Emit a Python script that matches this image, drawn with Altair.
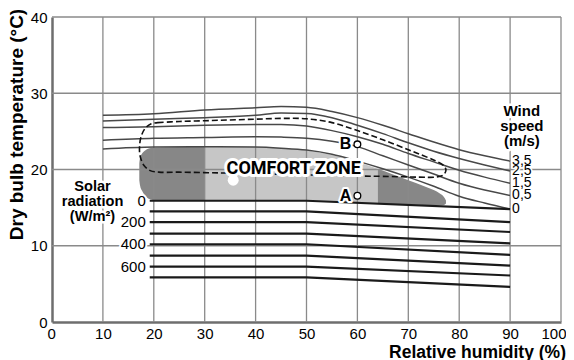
import altair as alt
import pandas as pd

# ---------------- data ----------------
X_TICKS = [0, 10, 20, 30, 40, 50, 60, 70, 80, 90, 100]
Y_TICKS = [0, 10, 20, 30, 40]

WIND_LABELS = ["3,5", "2,5", "1,5", "0,5", "0"]
WIND_X = [10, 20, 30, 40, 45, 50, 55, 60, 65, 70, 75, 80, 85, 90]
WIND_35 = [27.1, 27.3, 27.8, 28.1, 28.25, 28.15, 27.6, 26.8, 25.8, 24.7, 23.6, 22.6, 21.8, 21.1]
WIND_25 = [26.35, 26.6, 26.8, 27.1, 27.4, 27.35, 26.8, 25.8, 24.7, 23.5, 22.4, 21.45, 20.6, 19.8]
WIND_15 = [25.5, 25.6, 25.8, 25.9, 25.9, 25.7, 25.1, 24.3, 23.3, 22.1, 21.0, 19.9, 19.0, 18.2]
WIND_05 = [23.85, 24.1, 24.2, 24.3, 24.25, 24.1, 23.7, 23.0, 21.8, 20.6, 19.4, 18.2, 17.3, 16.6]
WIND_00 = [22.7, 22.95, 23.0, 22.95, 22.8, 22.55, 22.0, 21.1, 20.1, 19.0, 17.8, 16.5, 15.6, 14.8]

SOLAR_LEVELS = [0, 100, 200, 300, 400, 500, 600, 700]
SOLAR_LABELED = [0, 200, 400, 600]
SOLAR_X = [19.2, 50, 90]
SOLAR_T_FLAT = [15.9, 14.5, 13.1, 11.6, 10.2, 8.7, 7.25, 5.85]
SOLAR_T_END = [14.8, 13.1, 11.8, 10.3, 8.8, 7.4, 6.1, 4.6]

ZONE_LEFT_X = [17.15, 17.3, 17.7, 18.3, 19.0, 19.8, 25.0, 30.0]
ZONE_LEFT_TOP = [20.8, 21.5, 22.1, 22.5, 22.75, 22.85, 22.95, 23.0]
ZONE_LEFT_BOT = [18.6, 17.9, 17.2, 16.6, 16.15, 16.0, 15.95, 15.95]
ZONE_MID_X = [30, 35, 40, 45, 50, 55, 60, 64]
ZONE_MID_TOP = [23.0, 23.0, 22.95, 22.8, 22.5, 21.9, 21.0, 20.1]
ZONE_MID_BOT = [15.95, 15.95, 15.95, 15.9, 15.9, 15.8, 15.65, 15.55]
ZONE_RIGHT_X = [64, 67, 70, 73, 75, 76.2, 77.0, 77.4]
ZONE_RIGHT_TOP = [20.1, 19.35, 18.6, 17.85, 17.3, 16.85, 16.4, 15.95]
ZONE_RIGHT_BOT = [15.5, 15.45, 15.4, 15.35, 15.3, 15.3, 15.35, 15.55]

LOOP_X = [20.8, 25, 30, 35, 40, 45, 50, 55, 60, 65, 70, 73, 75.3, 76.8, 77.4, 76.9, 75.3,
          72, 65, 60, 50, 40, 33, 25, 21, 19.3, 18.0, 17.3, 17.2, 17.5, 18.3, 19.5, 20.8]
LOOP_T = [26.15, 26.3, 26.4, 26.5, 26.6, 26.7, 26.65, 26.15, 25.1, 23.9, 22.6, 21.8, 21.15, 20.6, 19.95, 19.3, 19.0,
          19.0, 19.1, 19.15, 19.3, 19.45, 19.55, 19.65, 19.65, 19.85, 20.6, 21.8, 23.0, 24.3, 25.4, 26.0, 26.15]

POINT_NAMES = ["A", "B"]
POINT_X = [60, 60]
POINT_T = [16.55, 23.3]

# ---------------- frames ----------------
wind_series = [WIND_35, WIND_25, WIND_15, WIND_05, WIND_00]
wind_df = pd.DataFrame([
    {"x": x, "T": t, "speed": lab}
    for lab, ser in zip(WIND_LABELS, wind_series) for x, t in zip(WIND_X, ser)
])
wind_end_df = pd.DataFrame({"x": [WIND_X[-1]] * 5, "T": [s[-1] for s in wind_series], "label": WIND_LABELS})

solar_df = pd.DataFrame([
    {"x": x, "T": t, "level": lev}
    for lev, a, b in zip(SOLAR_LEVELS, SOLAR_T_FLAT, SOLAR_T_END)
    for x, t in zip(SOLAR_X, [a, a, b])
])
solar_lab_df = pd.DataFrame({
    "x": [SOLAR_X[0]] * len(SOLAR_LABELED),
    "T": [SOLAR_T_FLAT[SOLAR_LEVELS.index(v)] for v in SOLAR_LABELED],
    "label": [str(v) for v in SOLAR_LABELED],
})

zone_left = pd.DataFrame({"x": ZONE_LEFT_X, "T": ZONE_LEFT_TOP, "bot": ZONE_LEFT_BOT})
zone_mid = pd.DataFrame({"x": ZONE_MID_X, "T": ZONE_MID_TOP, "bot": ZONE_MID_BOT})
zone_right = pd.DataFrame({"x": ZONE_RIGHT_X, "T": ZONE_RIGHT_TOP, "bot": ZONE_RIGHT_BOT})

loop_df = pd.DataFrame({"x": LOOP_X, "T": LOOP_T, "i": list(range(len(LOOP_X)))})
pts_df = pd.DataFrame({"name": POINT_NAMES, "x": POINT_X, "T": POINT_T})

gx_df = pd.DataFrame({"x": X_TICKS[1:]})
gy_df = pd.DataFrame({"T": Y_TICKS[1:]})

ann_df = pd.DataFrame({
    "key": ["solar", "wind", "zone", "dot"],
    "x": [7.96, 92.3, 47.5, 35.6],
    "T": [17.18, 27.08, 19.4, 18.6],
    "text": ["Solar\nradiation\n(W/m²)", "Wind\nspeed\n(m/s)", "COMFORT ZONE", ""],
})

# ---------------- chart ----------------
FONT = "Liberation Sans"
XS = alt.Scale(domain=[0, 100], nice=False, zero=False)
YS = alt.Scale(domain=[0, 40], nice=False, zero=False)

x_axis = alt.Axis(values=X_TICKS, grid=False, ticks=False, domainColor="#6e6e6e", domainWidth=2.5,
                  labelFont=FONT, labelFontSize=15, labelColor="black", labelPadding=4,
                  labelFlush=True, labelFlushOffset=5, labelOverlap=False,
                  title="Relative humidity (%)", titleFont=FONT, titleFontSize=17.5, titleFontWeight="bold",
                  titleColor="black", titleAnchor="end", titleAlign="right", titleBaseline="alphabetic",
                  titleX=513.5, titleY=35.5)
y_axis = alt.Axis(values=Y_TICKS, grid=False, ticks=False, domainColor="#6e6e6e", domainWidth=2.5,
                  labelFont=FONT, labelFontSize=15, labelColor="black", labelPadding=5,
                  labelFlush=False, labelOverlap=False,
                  title="Dry bulb temperature (°C)", titleFont=FONT, titleFontSize=19, titleFontWeight="bold",
                  titleColor="black", titleAngle=270, titleAlign="center", titleBaseline="alphabetic",
                  titleX=-29.5, titleY=107)


def X(field="x"):
    return alt.X(f"{field}:Q", scale=XS, axis=x_axis, title="Relative humidity (%)")


def Y(field="T"):
    return alt.Y(f"{field}:Q", scale=YS, axis=y_axis, title="Dry bulb temperature (°C)")


zl = alt.Chart(zone_left).mark_area(color="#878787", interpolate="monotone").encode(
    x=X(), y=Y(), y2="bot:Q")
zm = alt.Chart(zone_mid).mark_area(color="#c6c6c6", interpolate="monotone").encode(
    x=X(), y=Y(), y2="bot:Q")
zr = alt.Chart(zone_right).mark_area(color="#878787", interpolate="monotone").encode(
    x=X(), y=Y(), y2="bot:Q")

grid_v = alt.Chart(gx_df).mark_rule(color="#8a8a8a", strokeWidth=1.3).encode(x=X())
grid_h = alt.Chart(gy_df).mark_rule(color="#8a8a8a", strokeWidth=1.3).encode(y=Y())

wind = alt.Chart(wind_df).mark_line(color="#484848", strokeWidth=1.5, interpolate="monotone").encode(
    x=X(), y=Y(), detail="speed:N")
loop = alt.Chart(loop_df).mark_line(color="#111111", strokeWidth=1.6, strokeDash=[6, 3],
                                    interpolate="catmull-rom").encode(x=X(), y=Y(), order="i:Q")
solar = alt.Chart(solar_df).mark_line(color="#1a1a1a", strokeWidth=2.2).encode(
    x=X(), y=Y(), detail="level:N")

dot = alt.Chart(ann_df[ann_df.key == "dot"]).mark_point(
    shape="circle", filled=True, color="white", opacity=1, size=120).encode(x=X(), y=Y())
pts = alt.Chart(pts_df).mark_point(shape="circle", filled=True, fill="white", stroke="black",
                                   strokeWidth=1.3, opacity=1, size=45).encode(x=X(), y=Y())


def txt(df, halo_w, **kw):
    base = alt.Chart(df)
    halo = base.mark_text(color="white", stroke="white", strokeWidth=halo_w, strokeJoin="round", **kw)
    fg = base.mark_text(color="black", **kw)
    return [halo, fg]


solar_title = txt(ann_df[ann_df.key == "solar"], 5, font=FONT, fontSize=14.6, fontWeight="bold",
                  align="center", baseline="alphabetic", lineBreak="\n", lineHeight=15)
wind_title = txt(ann_df[ann_df.key == "wind"], 5, font=FONT, fontSize=15, fontWeight="bold",
                 align="center", baseline="alphabetic", lineBreak="\n", lineHeight=15.3)
zone_title = txt(ann_df[ann_df.key == "zone"], 6, font="Roboto", fontSize=18,
                 fontWeight="bold", align="center", baseline="alphabetic")
solar_labels = txt(solar_lab_df, 4, font=FONT, fontSize=15, align="right", baseline="middle", dx=-4)
wind_labels = txt(wind_end_df, 3, font=FONT, fontSize=14, align="left", baseline="middle", dx=2)
pt_labels = txt(pts_df, 4, font=FONT, fontSize=16, fontWeight="bold", align="right",
                baseline="middle", dx=-6)

text_layers = []
for pair, enc in [
    (solar_title, dict(text="text:N")),
    (wind_title, dict(text="text:N")),
    (zone_title, dict(text="text:N")),
    (solar_labels, dict(text="label:N")),
    (wind_labels, dict(text="label:N")),
    (pt_labels, dict(text="name:N")),
]:
    for m in pair:
        text_layers.append(m.encode(x=X(), y=Y(), **enc))

chart = alt.layer(
    zl, zm, zr, grid_v, grid_h, wind, loop, solar, dot, pts, *text_layers
).properties(
    width=509, height=305,
    autosize=alt.AutoSizeParams(type="none"),
    padding={"left": 44, "top": 9, "right": 5, "bottom": 40},
).configure_view(strokeWidth=0)

chart.save("out.html", embed_options={"renderer": "svg", "actions": False})
